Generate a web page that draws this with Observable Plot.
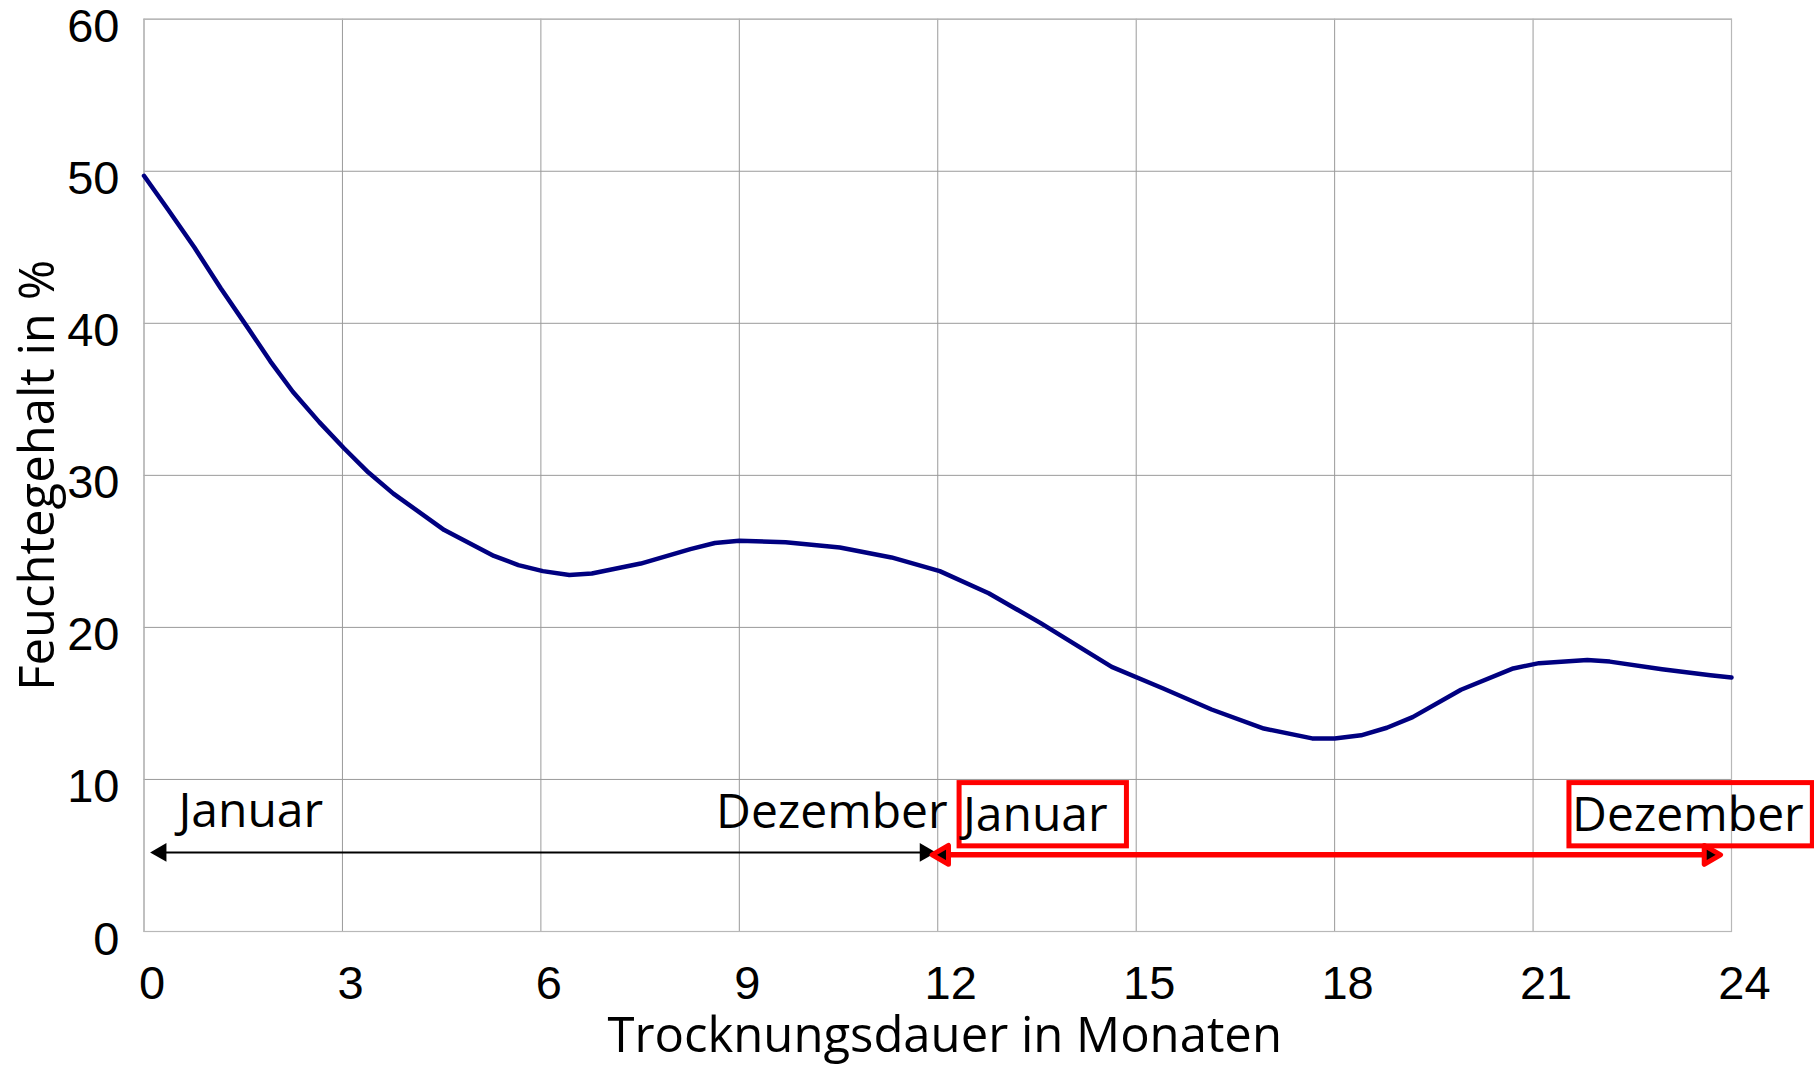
<!DOCTYPE html>
<html>
<head>
<meta charset="utf-8">
<script src="https://cdn.jsdelivr.net/npm/d3@7"></script>
<script src="https://cdn.jsdelivr.net/npm/@observablehq/plot@0.6"></script>
<style>
  html, body { margin: 0; padding: 0; background: #fff; }
  #chart svg { display: block; }
</style>
</head>
<body>
<div id="chart"></div>
<script>
// Drying time (months) and moisture content (%)
const months = [0, 0.36, 0.76, 1.16, 1.57, 1.91, 2.25, 2.65, 3.02, 3.39, 3.77, 4.54, 5.29, 5.66, 6.03, 6.43, 6.77, 7.51, 8.26, 8.63, 9.0, 9.7, 10.52, 11.3, 12.03, 12.77, 13.55, 14.63, 15.4, 16.14, 16.93, 17.66, 18.0, 18.4, 18.79, 19.18, 19.91, 20.7, 21.09, 21.82, 22.16, 22.95, 23.68, 24.0];
const moisture = [49.7, 47.5, 45.0, 42.3, 39.7, 37.5, 35.5, 33.5, 31.8, 30.2, 28.8, 26.4, 24.7, 24.1, 23.7, 23.45, 23.55, 24.2, 25.15, 25.55, 25.7, 25.6, 25.25, 24.6, 23.7, 22.25, 20.3, 17.4, 16.0, 14.6, 13.35, 12.7, 12.7, 12.9, 13.4, 14.1, 15.9, 17.3, 17.65, 17.85, 17.75, 17.25, 16.85, 16.7];

const xTicks = [0, 3, 6, 9, 12, 15, 18, 21, 24];
const yTicks = [0, 10, 20, 30, 40, 50, 60];

const xTitle = "Trocknungsdauer in Monaten";
const yTitle = "Feuchtegehalt in %";

// Year annotations (first year black, second year highlighted red)
const year1Labels = ["Januar", "Dezember"];
const year1LabelX = [0.52, 12.15];
const year1LabelY = [6.85, 6.8];
const year1ArrowX = [0.257, 11.81];
const year1ArrowY = 5.2;

const year2Labels = ["Januar", "Dezember"];
const year2LabelX = [12.38, 21.59];
const year2LabelY = [6.64, 6.64];
const year2BoxX1 = [12.33, 21.55];
const year2BoxX2 = [14.86, 25.23];
const year2BoxTop = 9.76;
const year2BoxBottom = 5.6;
const year2ArrowX = [12.08, 23.67];
const year2ArrowY = 5.04;

const series = months.map((m, i) => ({month: m, value: moisture[i]}));

const annoFont = "'Open Sans', sans-serif";
const tickFont = "'Liberation Sans', Arial, sans-serif";

const chart = Plot.plot({
  width: 1814,
  height: 1067,
  marginLeft: 143.5,
  marginRight: 83,
  marginTop: 18.7,
  marginBottom: 136,
  style: {background: "#ffffff", color: "#000"},
  x: {domain: [0, 24]},
  y: {domain: [0, 60]},
  marks: [
    Plot.gridX(xTicks, {stroke: "#9a9a9a", strokeOpacity: 1, strokeWidth: 1}),
    Plot.gridY(yTicks, {stroke: "#9a9a9a", strokeOpacity: 1, strokeWidth: 1}),
    Plot.frame({stroke: "#b8b8b8", strokeWidth: 1.2}),
    Plot.axisY(yTicks, {anchor: "left", tickSize: 0, tickPadding: 24.5, dy: 8, fontSize: 47, fontFamily: tickFont, label: null}),
    Plot.axisX(xTicks.filter(t => t < 10), {anchor: "bottom", tickSize: 0, tickPadding: 34, dx: 8, fontSize: 47, fontFamily: tickFont, label: null}),
    Plot.axisX(xTicks.filter(t => t >= 10), {anchor: "bottom", tickSize: 0, tickPadding: 34, dx: 13, fontSize: 47, fontFamily: tickFont, label: null}),
    Plot.line(series, {x: "month", y: "value", stroke: "#000080", strokeWidth: 4.5}),
    // first-year arrow
    Plot.ruleY([year1ArrowY], {x1: year1ArrowX[0], x2: year1ArrowX[1], stroke: "#000", strokeWidth: 2}),
    Plot.dot([0], {x: () => year1ArrowX[0], y: () => year1ArrowY, symbol: "triangle", r: 7, fill: "#000", rotate: -90}),
    Plot.dot([0], {x: () => year1ArrowX[1], y: () => year1ArrowY, symbol: "triangle", r: 7, fill: "#000", rotate: 90}),
    // second-year arrow
    Plot.ruleY([year2ArrowY], {x1: year2ArrowX[0] + 0.1, x2: year2ArrowX[1] - 0.1, stroke: "#ff0000", strokeWidth: 5.5}),
    Plot.dot([0], {x: () => year2ArrowX[0], y: () => year2ArrowY, symbol: "triangle", r: 7, fill: "#000", stroke: "#ff0000", strokeWidth: 5, strokeLinejoin: "round", rotate: -90}),
    Plot.dot([0], {x: () => year2ArrowX[1], y: () => year2ArrowY, symbol: "triangle", r: 7, fill: "#000", stroke: "#ff0000", strokeWidth: 5, strokeLinejoin: "round", rotate: 90}),
    // boxes
    Plot.rect(year2Labels, {x1: (d, i) => year2BoxX1[i], x2: (d, i) => year2BoxX2[i], y1: () => year2BoxBottom, y2: () => year2BoxTop, fill: "none", stroke: "#ff0000", strokeWidth: 5}),
    // labels
    Plot.text([year1Labels[0]], {x: () => year1LabelX[0], y: () => year1LabelY[0], text: d => d, textAnchor: "start", lineAnchor: "bottom", fontSize: 48, fontFamily: annoFont, fill: "#000"}),
    Plot.text([year1Labels[1]], {x: () => year1LabelX[1], y: () => year1LabelY[1], text: d => d, textAnchor: "end", lineAnchor: "bottom", fontSize: 48, fontFamily: annoFont, fill: "#000"}),
    Plot.text(year2Labels, {x: (d, i) => year2LabelX[i], y: (d, i) => year2LabelY[i], text: d => d, textAnchor: "start", lineAnchor: "bottom", fontSize: 48, fontFamily: annoFont, fill: "#000"}),
    // axis titles
    Plot.text([xTitle], {text: d => d, frameAnchor: "bottom", dx: 7, dy: 120, lineAnchor: "bottom", textAnchor: "middle", fontSize: 49, fontFamily: annoFont, fill: "#000"}),
    Plot.text([yTitle], {text: d => d, frameAnchor: "left", dx: -90, rotate: -90, lineAnchor: "bottom", textAnchor: "middle", fontSize: 49, fontFamily: annoFont, fill: "#000"})
  ]
});

document.getElementById("chart").appendChild(chart);
</script>
</body>
</html>
